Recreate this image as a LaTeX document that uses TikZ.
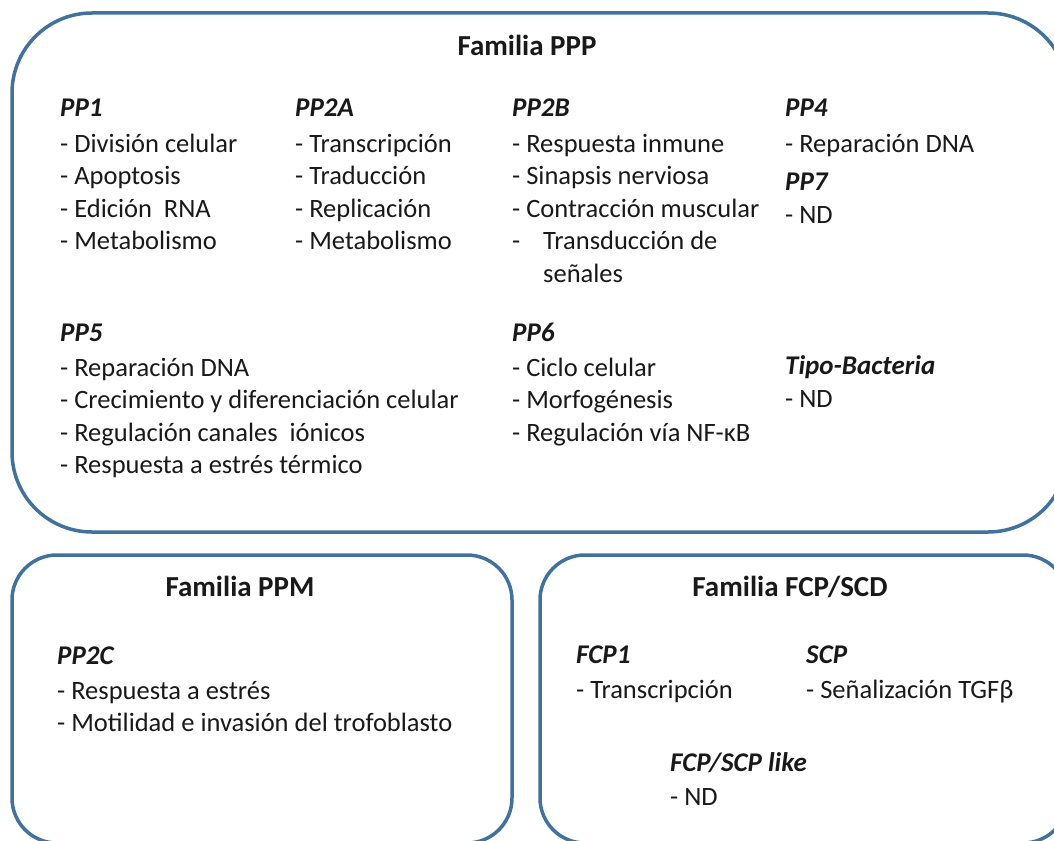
\documentclass[tikz,border=0pt]{standalone}
\usepackage{fontspec}
\setmainfont{Carlito}
\definecolor{boxblue}{RGB}{66,113,158}
\definecolor{txt}{RGB}{25,25,25}
\begin{document}
\begin{tikzpicture}[x=1pt,y=-1pt,
  famtitle/.style={font=\fontsize{29}{34}\selectfont\bfseries, text=txt, inner sep=0pt, anchor=base},
  grphead/.style={font=\fontsize{27}{32}\selectfont\bfseries\itshape, text=txt, inner sep=0pt, anchor=base west},
  item/.style={font=\fontsize{26.5}{32}\selectfont, text=txt, inner sep=0pt, anchor=base west},
  famframe/.style={draw=boxblue, line width=3.5pt}
]
\useasboundingbox (0,0) rectangle (1054,840);
\clip (0,0) rectangle (1054,840);
\fill[white] (0,0) rectangle (1054,840);

% frames
\draw[famframe, rounded corners=80pt] (12,13) rectangle (1068,532);
\draw[famframe, rounded corners=45pt] (12,555) rectangle (512,843);
\draw[famframe, rounded corners=45pt] (540,555) rectangle (1068,843);

% Familia PPP
\node[famtitle] (tppp) at (527,56) {Familia PPP};

\node[grphead] (pp1) at (60,117) {PP1};
\node[item] (pp1a) at (60,152) {- División celular};
\node[item] (pp1b) at (60,184.5) {- Apoptosis};
\node[item] (pp1c) at (60,217) {- Edición\ \ RNA};
\node[item] (pp1d) at (60,249.5) {- Metabolismo};

\node[grphead] (pp2a) at (295,117) {PP2A};
\node[item] (pp2aa) at (295,152) {- Transcripción};
\node[item] (pp2ab) at (295,184.5) {- Traducción};
\node[item] (pp2ac) at (295,217) {- Replicación};
\node[item] (pp2ad) at (295,249.5) {- Metabolismo};

\node[grphead] (pp2b) at (512,117) {PP2B};
\node[item] (pp2ba) at (512,152) {- Respuesta inmune};
\node[item] (pp2bb) at (512,184.5) {- Sinapsis nerviosa};
\node[item] (pp2bc) at (512,217) {- Contracción muscular};
\node[item] (pp2bd) at (512,249.5) {-};
\node[item] (pp2be) at (543,249.5) {Transducción de};
\node[item] (pp2bf) at (543,282) {señales};

\node[grphead] (pp4) at (785,117) {PP4};
\node[item] (pp4a) at (785,152) {- Reparación DNA};
\node[grphead] (pp7) at (785,190) {PP7};
\node[item] (pp7a) at (785,223) {- ND};

\node[grphead] (pp5) at (60,341) {PP5};
\node[item] (pp5a) at (60,376) {- Reparación DNA};
\node[item] (pp5b) at (60,408.5) {- Crecimiento y diferenciación celular};
\node[item] (pp5c) at (60,441) {- Regulación canales\ \ iónicos};
\node[item] (pp5d) at (60,473.5) {- Respuesta a estrés térmico};

\node[grphead] (pp6) at (512,341) {PP6};
\node[item] (pp6a) at (512,376) {- Ciclo celular};
\node[item] (pp6b) at (512,408.5) {- Morfogénesis};
\node[item] (pp6c) at (512,441) {- Regulación vía NF-κB};

\node[grphead] (tb) at (785,374) {Tipo-Bacteria};
\node[item] (tba) at (785,407) {- ND};

% Familia PPM
\node[famtitle] (tppm) at (240,596) {Familia PPM};
\node[grphead] (pp2c) at (57,664) {PP2C};
\node[item] (pp2ca) at (57,699) {- Respuesta a estrés};
\node[item] (pp2cb) at (57,731.5) {- Motilidad e invasión del trofoblasto};

% Familia FCP/SCD
\node[famtitle] (tfcp) at (790,596) {Familia FCP/SCD};
\node[grphead] (fcp1) at (576,663) {FCP1};
\node[item] (fcp1a) at (576,698) {- Transcripción};
\node[grphead] (scp) at (806,663) {SCP};
\node[item] (scpa) at (806,698) {- Señalización TGFβ};
\node[grphead] (like) at (670,771) {FCP/SCP like};
\node[item] (likea) at (670,805) {- ND};
\end{tikzpicture}
\end{document}
